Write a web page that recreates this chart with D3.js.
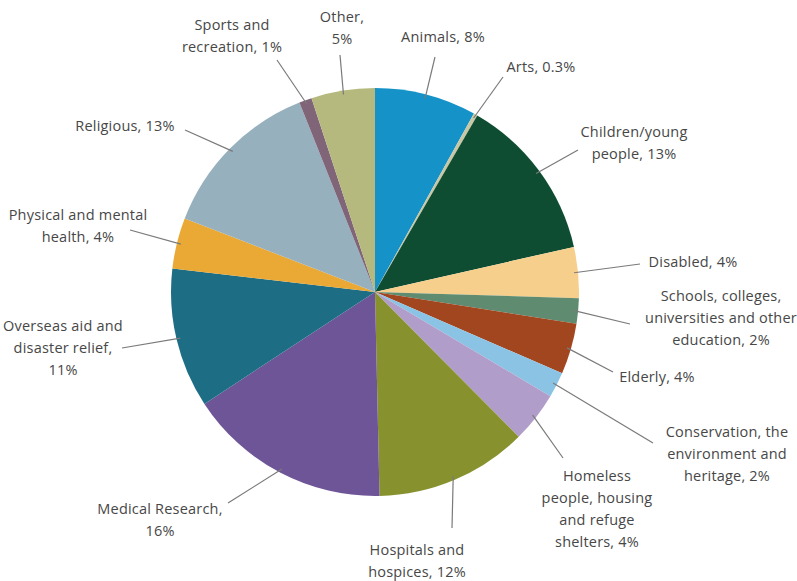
<!doctype html>
<html>
<head>
  <meta charset="utf-8">
  <title>Donations by cause</title>
  <style>
    body { margin: 0; background: #fff; }
    .label text {
      font-family: 'Open Sans', sans-serif;
      font-size: 14.5px;
      letter-spacing: 0.2px;
      fill: #474747;
      text-anchor: middle;
    }
    .leader { stroke: #7a7a7a; stroke-width: 1.2; fill: none; }
  </style>
</head>
<body>
  <div id="chart"></div>
  <script src="https://cdnjs.cloudflare.com/ajax/libs/d3/7.8.5/d3.min.js"></script>
  <script>
    // causes, clockwise from 12 o'clock
    var causes = [
      "Animals", "Arts", "Children/young people", "Disabled",
      "Schools, colleges, universities and other education", "Elderly",
      "Conservation, the environment and heritage",
      "Homeless people, housing and refuge shelters", "Hospitals and hospices",
      "Medical Research", "Overseas aid and disaster relief",
      "Physical and mental health", "Religious", "Sports and recreation", "Other"
    ];
    var shares = [8, 0.3, 13, 4, 2, 4, 2, 4, 12, 16, 11, 4, 13, 1, 5];
    var colours = [
      "#1592c8", "#c9c8a4", "#0f4d33", "#f6cf8c", "#5f8c70", "#a2461f",
      "#8bc3e4", "#b09dc9", "#87922f", "#6e5597", "#1d6e85", "#eaa935",
      "#97b0bd", "#7f6577", "#b5b97d"
    ];
    // label text, broken into lines as printed
    var labelLines = [
      ["Animals, 8%"],
      ["Arts, 0.3%"],
      ["Children/young", "people, 13%"],
      ["Disabled, 4%"],
      ["Schools, colleges,", "universities and other", "education, 2%"],
      ["Elderly, 4%"],
      ["Conservation, the", "environment and", "heritage, 2%"],
      ["Homeless", "people, housing", "and refuge", "shelters, 4%"],
      ["Hospitals and", "hospices, 12%"],
      ["Medical Research,", "16%"],
      ["Overseas aid and", "disaster relief,", "11%"],
      ["Physical and mental", "health, 4%"],
      ["Religious, 13%"],
      ["Sports and", "recreation, 1%"],
      ["Other,", "5%"]
    ];

    var width = 797, height = 581;
    var cx = 375, cy = 292, radius = 204;

    // where each label block sits (centre x, first baseline y) and where its leader ends
    var layout = [
      { x: 443, y: 42, end: [435, 57] },
      { x: 541, y: 72, end: [503, 77] },
      { x: 634, y: 137, end: [578, 150] },
      { x: 693, y: 267, end: [640, 264] },
      { x: 721, y: 301, end: [630, 324] },
      { x: 657, y: 382, end: [613, 372] },
      { x: 727, y: 437, end: [653, 443] },
      { x: 597, y: 481, end: [563, 458] },
      { x: 417, y: 555, end: [452, 528] },
      { x: 160, y: 514, end: [228, 503] },
      { x: 63, y: 331, end: [122, 348] },
      { x: 78, y: 220, end: [130, 230] },
      { x: 125, y: 131, end: [185, 130] },
      { x: 232, y: 30, end: [277, 60] },
      { x: 342, y: 22, end: [340, 55] }
    ];

    var data = causes.map(function (c, i) {
      return { cause: c, share: shares[i], colour: colours[i], lines: labelLines[i], pos: layout[i] };
    });

    var svg = d3.select("#chart").append("svg")
      .attr("width", width).attr("height", height);

    var pie = d3.pie().sort(null).value(function (d) { return d.share; });
    var arc = d3.arc().innerRadius(0).outerRadius(radius);
    var edge = d3.arc().innerRadius(radius - 4).outerRadius(radius - 4);

    var arcs = pie(data);
    var g = svg.append("g").attr("transform", "translate(" + cx + "," + cy + ")");

    g.selectAll("path.slice")
      .data(arcs)
      .join("path")
      .attr("class", "slice")
      .attr("d", arc)
      .attr("fill", function (d) { return d.data.colour; });

    // leader lines from the slice rim to the label
    g.selectAll("line.leader")
      .data(arcs)
      .join("line")
      .attr("class", "leader")
      .attr("x1", function (d) { return edge.centroid(d)[0]; })
      .attr("y1", function (d) { return edge.centroid(d)[1]; })
      .attr("x2", function (d) { return d.data.pos.end[0] - cx; })
      .attr("y2", function (d) { return d.data.pos.end[1] - cy; });

    var labels = svg.append("g").attr("class", "label")
      .selectAll("text")
      .data(data)
      .join("text")
      .attr("x", function (d) { return d.pos.x; })
      .attr("y", function (d) { return d.pos.y; });

    labels.selectAll("tspan")
      .data(function (d) { return d.lines.map(function (l, i) { return { text: l, i: i, x: d.pos.x }; }); })
      .join("tspan")
      .attr("x", function (t) { return t.x; })
      .attr("dy", function (t) { return t.i === 0 ? 0 : 22; })
      .text(function (t) { return t.text; });
  </script>
</body>
</html>
